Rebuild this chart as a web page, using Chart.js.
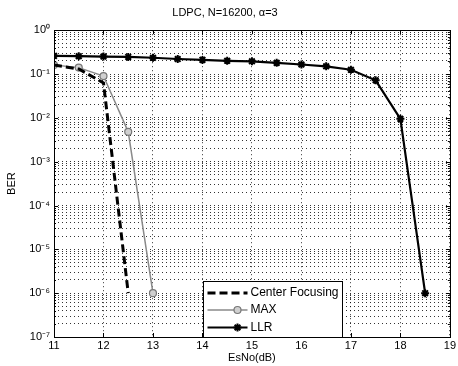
<!DOCTYPE html>
<html>
<head>
<meta charset="utf-8">
<script src="https://cdn.jsdelivr.net/npm/chart.js@4.4.0/dist/chart.umd.min.js"></script>
<style>
html,body{margin:0;padding:0;background:#fff;}
#wrap{width:458px;height:366px;position:relative;}
</style>
</head>
<body>
<div id="wrap"><canvas id="c" width="458" height="366"></canvas></div>
<script>
const titleText = 'LDPC, N=16200, α=3';
const xLabel = 'EsNo(dB)';
const yLabel = 'BER';
const seriesNames = ['Center Focusing', 'MAX', 'LLR'];

const xCF = [11, 11.5, 12, 12.5];
const yCF = [0.16, 0.13, 0.063, 1e-6];

const xMAX = [11, 11.5, 12, 12.5, 13];
const yMAX = [0.16, 0.14, 0.09, 4.8e-3, 1e-6];

const xLLR = [11, 11.5, 12, 12.5, 13, 13.5, 14, 14.5, 15, 15.5, 16, 16.5, 17, 17.5, 18, 18.5];
const yLLR = [0.26, 0.255, 0.25, 0.245, 0.235, 0.22, 0.21, 0.20, 0.195, 0.18, 0.165, 0.15, 0.125, 0.072, 0.0095, 1e-6];

const xTicks = [11, 12, 13, 14, 15, 16, 17, 18, 19];
const yDecades = [-7, -6, -5, -4, -3, -2, -1, 0];

const sup = {'0':'⁰','1':'¹','2':'²','3':'³','4':'⁴','5':'⁵','6':'⁶','7':'⁷','8':'⁸','9':'⁹','-':'⁻'};
function decadeLabel(e){ return '10' + String(e).split('').map(ch => sup[ch]).join(''); }

function pts(xs, ys){ return xs.map((x, i) => ({x: x, y: ys[i]})); }

const FONT = '"Liberation Sans", Arial, sans-serif';
const gridColor = 'rgba(0,0,0,0.8)';

const boxPlugin = {
  id: 'box',
  afterDraw(chart){
    const a = chart.chartArea, ctx = chart.ctx;
    ctx.save();
    ctx.strokeStyle = '#000';
    ctx.lineWidth = 1;
    ctx.setLineDash([]);
    ctx.strokeRect(Math.round(a.left) + 0.5, Math.round(a.top) + 0.5, Math.round(a.right - a.left), Math.round(a.bottom - a.top));
    const xs = chart.scales.x, ys = chart.scales.y;
    ctx.beginPath();
    xTicks.forEach(v => {
      const px = Math.round(xs.getPixelForValue(v)) + 0.5;
      ctx.moveTo(px, a.bottom); ctx.lineTo(px, a.bottom - 4);
      ctx.moveTo(px, a.top); ctx.lineTo(px, a.top + 4);
    });
    ys.ticks.forEach(t => {
      const py = Math.round(ys.getPixelForValue(t.value)) + 0.5;
      const len = t.major ? 4 : 2;
      ctx.moveTo(a.left, py); ctx.lineTo(a.left + len, py);
      ctx.moveTo(a.right, py); ctx.lineTo(a.right - len, py);
    });
    ctx.stroke();
    ctx.restore();
  }
};

const legendPlugin = {
  id: 'inlegend',
  afterDraw(chart){
    const a = chart.chartArea, ctx = chart.ctx;
    const L = Math.round(a.left + 149) + 0.5;
    const R = Math.round(a.left + 288) + 0.5;
    const T = Math.round(a.bottom - 56) + 0.5;
    const B = Math.round(a.bottom) + 0.5;
    ctx.save();
    ctx.fillStyle = '#fff';
    ctx.fillRect(L, T, R - L, B - T);
    ctx.strokeStyle = '#000';
    ctx.lineWidth = 1;
    ctx.setLineDash([]);
    ctx.strokeRect(L, T, R - L, B - T);
    const rows = [T + 11.5, T + 28.5, T + 46];
    chart.data.datasets.forEach((ds, i) => {
      const y = rows[i];
      ctx.save();
      ctx.strokeStyle = ds.borderColor;
      ctx.lineWidth = ds.borderWidth;
      ctx.setLineDash(ds.borderDash || []);
      ctx.beginPath();
      ctx.moveTo(L + 4, y); ctx.lineTo(L + 44, y);
      ctx.stroke();
      ctx.setLineDash([]);
      if (ds.pointRadius > 0) {
        ctx.fillStyle = ds.pointBackgroundColor;
        ctx.strokeStyle = ds.pointBorderColor;
        ctx.lineWidth = ds.pointBorderWidth || 1;
        Chart.helpers.drawPoint(ctx, {pointStyle: ds.pointStyle, radius: ds.pointRadius, borderWidth: ds.pointBorderWidth || 1, rotation: 0}, L + 34, y);
      }
      ctx.restore();
      ctx.fillStyle = '#000';
      ctx.font = '12px ' + FONT;
      ctx.textBaseline = 'middle';
      ctx.textAlign = 'left';
      ctx.fillText(ds.label, L + 47, y);
    });
    ctx.restore();
  }
};

new Chart(document.getElementById('c'), {
  type: 'line',
  data: {
    datasets: [
      {
        label: seriesNames[0],
        data: pts(xCF, yCF),
        borderColor: '#000',
        borderWidth: 3,
        borderDash: [8, 4],
        pointRadius: 0,
        fill: false,
        tension: 0
      },
      {
        label: seriesNames[1],
        data: pts(xMAX, yMAX),
        borderColor: '#8a8a8a',
        borderWidth: 1.5,
        pointStyle: 'circle',
        pointRadius: 3.5,
        pointBorderWidth: 1.2,
        pointBorderColor: '#777',
        pointBackgroundColor: '#d0d0d0',
        fill: false,
        tension: 0
      },
      {
        label: seriesNames[2],
        data: pts(xLLR, yLLR),
        borderColor: '#000',
        borderWidth: 2.2,
        pointStyle: 'star',
        pointRadius: 4,
        pointBorderWidth: 2,
        pointBorderColor: '#000',
        pointBackgroundColor: '#000',
        fill: false,
        tension: 0
      }
    ]
  },
  options: {
    responsive: false,
    animation: false,
    devicePixelRatio: 1,
    layout: { padding: { left: 0, right: 8, top: 3, bottom: 0 } },
    plugins: {
      legend: { display: false },
      tooltip: { enabled: false },
      title: {
        display: true,
        text: titleText,
        color: '#000',
        font: { family: FONT, size: 11, weight: 'normal' },
        padding: { top: 3, bottom: 11 }
      }
    },
    scales: {
      x: {
        type: 'linear',
        min: 11,
        max: 19,
        afterBuildTicks(scale){ scale.ticks = xTicks.map(v => ({value: v})); },
        afterFit(scale){ scale.height = 29; },
        ticks: {
          color: '#000',
          font: { family: FONT, size: 11 },
          padding: 2,
          maxRotation: 0,
          autoSkip: false,
          callback: v => String(v)
        },
        grid: {
          color: gridColor,
          lineWidth: 1,
          drawTicks: false,
          tickLength: 0
        },
        border: { display: false, dash: [1, 3] },
        title: {
          display: true,
          text: xLabel,
          color: '#000',
          font: { family: FONT, size: 11 },
          padding: { top: 0, bottom: 1 }
        }
      },
      y: {
        type: 'logarithmic',
        min: 1e-7,
        max: 1,
        afterBuildTicks(scale){
          const t = [];
          for (let e = -7; e <= 0; e++) {
            for (let m = 1; m <= 9; m++) {
              const v = m * Math.pow(10, e);
              if (v > 1.0000001) break;
              t.push({value: v, major: m === 1});
            }
          }
          scale.ticks = t;
        },
        afterFit(scale){ scale.width = 54; },
        ticks: {
          color: '#000',
          font: { family: FONT, size: 11 },
          padding: 4,
          autoSkip: false,
          callback: function(v){
            const e = Math.round(Math.log10(v));
            if (Math.abs(v - Math.pow(10, e)) < 1e-9 * Math.pow(10, e) && yDecades.includes(e)) return decadeLabel(e);
            return '';
          }
        },
        grid: {
          color: gridColor,
          lineWidth: 1,
          drawTicks: false,
          tickLength: 0
        },
        border: { display: false, dash: [1, 3] },
        title: {
          display: true,
          text: yLabel,
          color: '#000',
          font: { family: FONT, size: 11 },
          padding: { top: 5, bottom: 0 }
        }
      }
    }
  },
  plugins: [boxPlugin, legendPlugin]
});
</script>
</body>
</html>
